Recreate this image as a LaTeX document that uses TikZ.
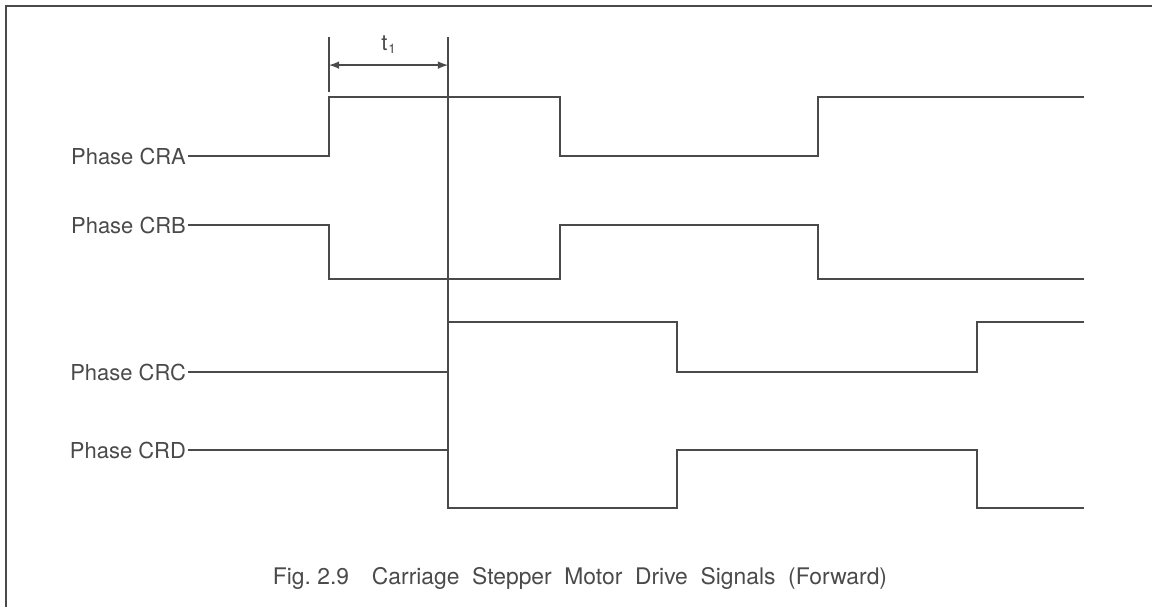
\documentclass[tikz,border=0pt]{standalone}
\usepackage{fontspec}
\setmainfont{TeX Gyre Heros}
\usetikzlibrary{arrows, positioning}
\definecolor{ink}{HTML}{4A4A4A}

\begin{document}
\begin{tikzpicture}[>=latex, x=0.02cm, y=-0.02cm,
    font=\fontsize{12.5}{15}\selectfont, color=ink,
    wave/.style = {draw=ink, line width=1.3pt},
    phase/.style = {anchor=east, inner sep=1pt, text=ink},
    frame/.style = {draw=ink, line width=1.2pt}]
      \useasboundingbox (0,0) rectangle (1152,607);
      \draw[frame] (6,607) -- (6,6) -- (1152,6);

      % signal names
      \node[phase] (CRA) at (188,156) {Phase CRA};
      \node[phase] (CRB) at (188,225) {Phase CRB};
      \node[phase] (CRC) at (188,372) {Phase CRC};
      \node[phase] (CRD) at (188,450) {Phase CRD};

      % t1 markers
      \coordinate (tA) at (329,37);
      \coordinate (tB) at (448,37);
      \draw[wave, line width=1pt] (tA) -- (329,92);
      \draw[wave, line width=1pt] (tB) -- (448,450);
      \path
      ([yshift=-16]tA)
      edge[<->, line width=1pt]
      node[above=3pt]{t\kern0.5pt\raisebox{-0.2ex}{\fontsize{7.5}{9}\selectfont 1}}
      ([yshift=-16]tB)
      ;

      \draw[wave] (CRA.east) -- (329,156) -- (329,97) -- (560,97)
        -- (560,156) -- (818,156) -- (818,97) -- (1084,97);

      \draw[wave] (CRB.east) -- (329,225) -- (329,279) -- (560,279)
        -- (560,225) -- (818,225) -- (818,279) -- (1084,279);

      \draw[wave] (CRC.east) -- (448,372) -- (448,322) -- (677,322)
        -- (677,372) -- (977,372) -- (977,322) -- (1084,322);

      \draw[wave] (CRD.east) -- (448,450) -- (448,508) -- (677,508)
        -- (677,450) -- (977,450) -- (977,508) -- (1084,508);

      \node[font=\fontsize{13}{15}\selectfont] (caption) at (580,578)
        {Fig.~2.9\quad Carriage\ \ Stepper\ \ Motor\ \ Drive\ \ Signals\ \ (Forward)};
\end{tikzpicture}
\end{document}
